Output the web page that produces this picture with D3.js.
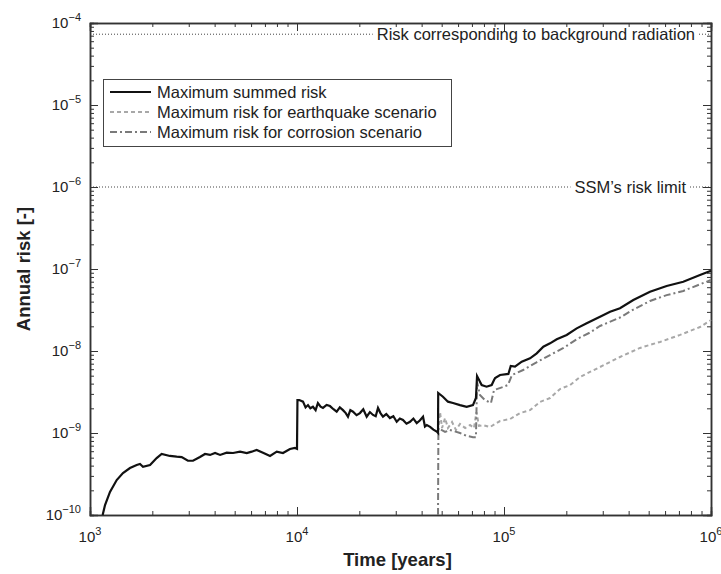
<!DOCTYPE html>
<html>
<head>
<meta charset="utf-8">
<script src="https://cdn.jsdelivr.net/npm/d3@7"></script>
<style>
  body { margin: 0; background: #fff; }
  svg { font-family: "Liberation Sans", Arial, sans-serif; }
</style>
</head>
<body>
<div class="content"></div>
<script>
// time [years], annual risk [-]
const summedRisk = [
  [1151, 1.0e-10], [1182, 1.32e-10], [1249, 1.91e-10], [1346, 2.67e-10], [1443, 3.25e-10],
  [1560, 3.74e-10], [1681, 4.07e-10], [1744, 4.19e-10], [1803, 3.88e-10], [1950, 4.07e-10],
  [2099, 4.95e-10], [2219, 5.55e-10], [2432, 5.25e-10], [2623, 5.14e-10], [2773, 5.09e-10],
  [2972, 4.59e-10], [3145, 4.59e-10], [3397, 5.09e-10], [3594, 5.55e-10], [3802, 5.40e-10],
  [4020, 5.70e-10], [4250, 5.40e-10], [4575, 5.75e-10], [4909, 5.70e-10], [5307, 5.92e-10],
  [5719, 5.70e-10], [6043, 5.92e-10], [6386, 6.21e-10], [6851, 5.75e-10], [7409, 5.25e-10],
  [7984, 5.92e-10], [8554, 5.70e-10], [9246, 6.38e-10], [9777, 6.56e-10], [10000, 6.4e-10],
  [10050, 2.52e-9], [10260, 2.52e-9], [10690, 2.41e-9], [11000, 2.05e-9], [11300, 2.19e-9],
  [11600, 2.0e-9], [11940, 2.09e-9], [12300, 1.9e-9], [12620, 2.32e-9], [13000, 2.1e-9],
  [13350, 2.02e-9], [13900, 2.2e-9], [14430, 2.13e-9], [15000, 1.95e-9], [15550, 1.82e-9],
  [16100, 2.05e-9], [16680, 1.90e-9], [17200, 1.75e-9], [17630, 1.58e-9], [18100, 1.9e-9],
  [18650, 1.82e-9], [19400, 1.65e-9], [20140, 1.75e-9], [20900, 1.95e-9], [21710, 1.58e-9],
  [22500, 1.8e-9], [23290, 1.66e-9], [24000, 1.6e-9], [24620, 2.02e-9], [25300, 1.75e-9],
  [26020, 1.58e-9], [27000, 1.7e-9], [28110, 1.52e-9], [29200, 1.6e-9], [30320, 1.37e-9],
  [31400, 1.5e-9], [32510, 1.44e-9], [33800, 1.3e-9], [35160, 1.37e-9], [36500, 1.5e-9],
  [37880, 1.32e-9], [39200, 1.42e-9], [40630, 1.58e-9], [41500, 1.2e-9], [42360, 1.25e-9],
  [43950, 1.19e-9], [45600, 1.1e-9], [47340, 1.04e-9], [48000, 1.0e-9], [48100, 3.08e-9],
  [50700, 2.77e-9], [53600, 2.41e-9], [56700, 2.32e-9], [61300, 2.19e-9], [66000, 2.09e-9],
  [70800, 2.19e-9], [73200, 2.67e-9], [74100, 4.95e-9], [78000, 3.85e-9], [82400, 3.67e-9],
  [87200, 3.85e-9], [89500, 4.42e-9], [90600, 4.69e-9], [95700, 5.10e-9], [105000, 5.25e-9],
  [107800, 6.56e-9], [113000, 6.46e-9], [121800, 7.41e-9], [133600, 8.15e-9], [143900, 9.37e-9],
  [154900, 1.13e-8], [166900, 1.24e-8], [179800, 1.39e-8], [200800, 1.57e-8], [224500, 1.89e-8],
  [250900, 2.18e-8], [291000, 2.62e-8], [325400, 3.01e-8], [363300, 3.32e-8], [421500, 4.19e-8],
  [507300, 5.28e-8], [610600, 6.21e-8], [734600, 7.00e-8], [884600, 8.45e-8], [1000000, 9.53e-8]
];

const earthquakeRisk = [
  [48000, 1.03e-9], [49100, 1.80e-9], [50200, 1.15e-9], [51900, 1.52e-9], [53600, 1.15e-9],
  [56100, 1.36e-9], [58600, 1.09e-9], [61300, 1.29e-9], [64900, 1.15e-9], [68500, 1.25e-9],
  [71600, 1.15e-9], [73600, 1.80e-9], [75700, 1.22e-9], [79200, 1.25e-9], [85500, 1.18e-9],
  [95700, 1.40e-9], [107000, 1.48e-9], [119500, 1.75e-9], [133600, 1.90e-9], [149300, 2.39e-9],
  [166900, 2.67e-9], [186600, 3.44e-9], [208600, 3.85e-9], [233000, 4.82e-9], [260300, 5.55e-9],
  [291000, 6.38e-9], [363300, 8.45e-9], [453500, 1.09e-8], [567000, 1.29e-8], [708500, 1.57e-8],
  [884600, 1.96e-8], [1000000, 2.39e-8]
];

const corrosionRisk = [
  [48000, 1.0e-10], [48200, 1.15e-9], [51900, 1.03e-9], [54800, 1.09e-9], [61300, 1.0e-9],
  [66200, 9.2e-10], [70800, 8.9e-10], [73200, 8.9e-10], [74100, 4.19e-9], [76500, 2.90e-9],
  [80900, 2.52e-9], [86500, 2.32e-9], [89500, 3.34e-9], [98900, 3.64e-9], [104500, 3.85e-9],
  [109300, 5.10e-9], [123700, 5.86e-9], [144300, 7.34e-9], [166900, 8.93e-9], [192800, 1.08e-8],
  [225300, 1.40e-8], [260300, 1.68e-8], [291000, 2.02e-8], [363300, 2.56e-8], [421500, 3.2e-8],
  [507300, 4.07e-8], [610600, 4.8e-8], [734600, 5.4e-8], [884600, 6.5e-8], [1000000, 7.34e-8]
];

const refValues = [7.3e-5, 1e-6];
const refLabels = ['Risk corresponding to background radiation', 'SSM\u2019s risk limit'];

const xTickExps = [3, 4, 5, 6];
const yTickExps = [-10, -9, -8, -7, -6, -5, -4];

const seriesNames = ['Maximum summed risk', 'Maximum risk for earthquake scenario', 'Maximum risk for corrosion scenario'];
const seriesColors = ['#111', '#a8a8a8', '#7a7a7a'];
const seriesDash = [null, '4,3', '7,3,2,3'];

const width = 721, height = 574;
const margin = { left: 90, right: 10, top: 23, bottom: 59 };

const svg = d3.select('div.content')
  .append('svg')
  .attr('width', width)
  .attr('height', height);

const x = d3.scaleLog().domain([1e3, 1e6]).range([margin.left, width - margin.right]);
const y = d3.scaleLog().domain([1e-10, 1e-4]).range([height - margin.bottom, margin.top]);

const majX = xTickExps.map((e) => Math.pow(10, e));
const majY = yTickExps.map((e) => Math.pow(10, e));
const minX = x.ticks().filter((v) => !majX.some((m) => Math.abs(v / m - 1) < 1e-6));
const minY = y.ticks().filter((v) => !majY.some((m) => Math.abs(v / m - 1) < 1e-6));

const axisColor = '#333';

// reference lines (drawn first so the box sits on top)
refValues.forEach((v, i) => {
  svg.append('line')
     .attr('x1', x.range()[0]).attr('x2', x.range()[1])
     .attr('y1', y(v)).attr('y2', y(v))
     .attr('stroke', '#444')
     .attr('stroke-width', 1)
     .attr('stroke-dasharray', '1,2');
});

const refTextEnd = [695, 686];
refValues.forEach((v, i) => {
  let t = svg.append('text')
     .attr('x', refTextEnd[i])
     .attr('y', y(v) + 6)
     .attr('text-anchor', 'end')
     .attr('font-size', 16.5)
     .attr('fill', '#222')
     .text(refLabels[i]);
  let bb = t.node().getBBox();
  svg.insert('rect', 'text')
     .attr('x', bb.x - 4).attr('y', y(v) - 3)
     .attr('width', bb.width + 6).attr('height', 6)
     .attr('fill', '#fff');
});

// axes with inward ticks on all sides
const addAxis = (axisFn, scale, vals, size, transform) => {
  let g = svg.append('g')
     .attr('transform', transform)
     .call(axisFn(scale).tickValues(vals).tickSize(-size).tickFormat(''));
  g.selectAll('path').attr('stroke', axisColor).attr('stroke-width', 1.5);
  g.selectAll('line').attr('stroke', axisColor);
  return g;
};

const bottomY = y.range()[0], topY = y.range()[1];
const leftX = x.range()[0], rightX = x.range()[1];

addAxis(d3.axisBottom, x, majX, 8, `translate(0,${bottomY})`);
addAxis(d3.axisBottom, x, minX, 4, `translate(0,${bottomY})`);
addAxis(d3.axisTop, x, majX, 8, `translate(0,${topY})`);
addAxis(d3.axisTop, x, minX, 4, `translate(0,${topY})`);
addAxis(d3.axisLeft, y, majY, 8, `translate(${leftX},0)`);
addAxis(d3.axisLeft, y, minY, 4, `translate(${leftX},0)`);
addAxis(d3.axisRight, y, majY, 8, `translate(${rightX},0)`);
addAxis(d3.axisRight, y, minY, 4, `translate(${rightX},0)`);

// tick labels with superscripts
xTickExps.forEach((e) => {
  let t = svg.append('text')
     .attr('x', x(Math.pow(10, e)))
     .attr('y', bottomY + 27)
     .attr('text-anchor', 'middle')
     .attr('font-size', 15)
     .attr('fill', '#222');
  t.append('tspan').text('10');
  t.append('tspan').attr('dy', -7).attr('font-size', 11).text(e);
});

yTickExps.forEach((e) => {
  let t = svg.append('text')
     .attr('x', leftX - 9)
     .attr('y', y(Math.pow(10, e)) + 5)
     .attr('text-anchor', 'end')
     .attr('font-size', 15)
     .attr('fill', '#222');
  t.append('tspan').text('10');
  t.append('tspan').attr('dy', -7).attr('font-size', 11).text(e < 0 ? '\u2212' + (-e) : e);
});

// axis titles
svg.append('text')
   .attr('x', (leftX + rightX) / 2 - 3)
   .attr('y', height - 8)
   .attr('text-anchor', 'middle')
   .attr('font-size', 18.5)
   .attr('font-weight', 'bold')
   .attr('fill', '#222')
   .text('Time [years]');

svg.append('text')
   .attr('transform', `translate(30,${(topY + bottomY) / 2}) rotate(-90)`)
   .attr('text-anchor', 'middle')
   .attr('font-size', 18.5)
   .attr('font-weight', 'bold')
   .attr('fill', '#222')
   .text('Annual risk [-]');

// series
const line = d3.line()
  .x((d) => x(d[0]))
  .y((d) => y(d[1]));

const drawOrder = [1, 2, 0];
const allSeries = [summedRisk, earthquakeRisk, corrosionRisk];
drawOrder.forEach((i) => {
  svg.append('path')
     .datum(allSeries[i])
     .attr('d', line)
     .attr('fill', 'none')
     .attr('stroke', seriesColors[i])
     .attr('stroke-width', i === 0 ? 2.2 : 2)
     .attr('stroke-dasharray', seriesDash[i]);
});

// legend
const legend = svg.append('g');
legend.append('rect')
   .attr('x', 103.5).attr('y', 79.5)
   .attr('width', 348).attr('height', 67)
   .attr('fill', '#fff')
   .attr('stroke', '#444')
   .attr('stroke-width', 1);

seriesNames.forEach((name, i) => {
  let ly = 92 + i * 20;
  legend.append('line')
     .attr('x1', 110).attr('x2', 151)
     .attr('y1', ly).attr('y2', ly)
     .attr('stroke', seriesColors[i])
     .attr('stroke-width', 2)
     .attr('stroke-dasharray', seriesDash[i]);
  legend.append('text')
     .attr('x', 157)
     .attr('y', ly + 6)
     .attr('font-size', 16.5)
     .attr('fill', '#222')
     .text(name);
});
</script>
</body>
</html>
